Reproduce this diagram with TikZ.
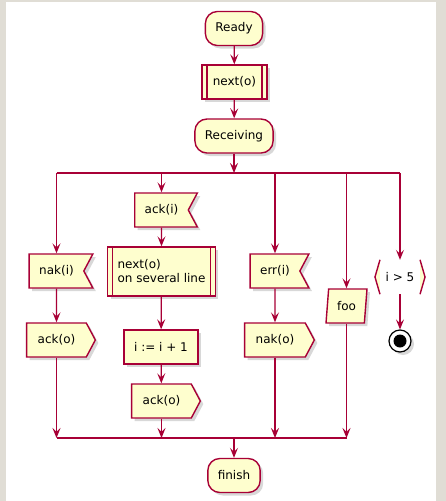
\documentclass[tikz,border=0pt]{standalone}
\usepackage{fontspec}
\setmainfont{DejaVu Sans}
\usetikzlibrary{arrows.meta, shapes.symbols, shapes.geometric, shadows}
\definecolor{umlred}{HTML}{A80036}
\definecolor{umlfill}{HTML}{FEFECE}
\definecolor{umlframe}{HTML}{E0DDD5}
\tikzset{
  box/.style={draw=umlred, fill=umlfill, line width=1.4pt, minimum height=34pt,
    inner xsep=10pt, inner ysep=0pt, font=\fontsize{12}{14}\selectfont,
    drop shadow={shadow xshift=3pt, shadow yshift=-3pt, opacity=.3}},
  state/.style={box, rounded corners=12pt},
  action/.style={box, rectangle},
  subproc/.style={box, path picture={
    \draw[umlred, line width=1.4pt]
      ([xshift=5pt]path picture bounding box.north west) -- ([xshift=5pt]path picture bounding box.south west)
      ([xshift=-5pt]path picture bounding box.north east) -- ([xshift=-5pt]path picture bounding box.south east);}},
  receive/.style={box, signal, signal to=nowhere, signal from=east, signal pointer angle=124},
  send/.style={box, signal, signal to=east, signal pointer angle=124, inner xsep=11pt},
  io/.style={box, trapezium, trapezium stretches=true, trapezium left angle=78,
    trapezium right angle=102, inner xsep=4pt, minimum width=41pt},
  flow/.style={->, draw=umlred, line width=1.2pt},
  bar/.style={draw=umlred, line width=1.2pt},
}

\begin{document}
\begin{tikzpicture}[x=1pt, y=-1pt, >={Stealth[length=10pt, width=8pt, inset=4pt]}]
  \fill[umlframe] (0,0) rectangle (446,501);
  \fill[white] (6,2) rectangle (436,501);

  \node[state] (ready) at (234,28.5) {Ready};
  \node[subproc, inner xsep=11pt] (next) at (234.5,82) {next(o)};
  \node[state] (recv) at (234,136) {Receiving};
  \coordinate (fork) at (234,173);

  % branches
  \node[receive] (nakI) at (56.5,271) {nak(i)};
  \node[send] (ackOa) at (56.5,340) {ack(o)};

  \node[receive] (ackI) at (161.5,210) {ack(i)};
  \node[subproc, align=left, minimum height=49pt] (nextML) at (161.5,271.5) {next(o)\\on several line};
  \node[action] (incr) at (161,347) {i := i + 1};
  \node[send] (ackOb) at (161.5,401) {ack(o)};

  \node[receive] (errI) at (275,271) {err(i)};
  \node[send] (nakO) at (275,340) {nak(o)};

  \node[io] (foo) at (346.5,306) {foo};

  \node[fill=white, minimum height=34pt, inner xsep=5.5pt, font=\fontsize{12}{14}\selectfont] (cond) at (400,277) {i > 5};
  \filldraw[fill=umlfill, draw=umlred, line width=1.4pt]
    (cond.north west) -- ([xshift=-5pt]cond.west) -- (cond.south west);
  \filldraw[fill=umlfill, draw=umlred, line width=1.4pt]
    (cond.north east) -- ([xshift=5pt]cond.east) -- (cond.south east);
  \node[circle, draw=black, fill=white, line width=1.2pt, minimum size=22pt, inner sep=0pt,
    drop shadow={shadow xshift=3pt, shadow yshift=-3pt, opacity=.3}] (stop) at (400,341) {};
  \fill[black] (stop) circle (6.5pt);

  \coordinate (join) at (234,438);
  \node[state] (finish) at (234,475.5) {finish};

  \draw[flow] (ready) -- (next);
  \draw[flow] (next) -- (recv);
  \draw[flow] (recv) -- (fork);
  \draw[bar] (fork -| nakI) -- (fork -| cond);
  \foreach \n in {nakI, ackI, errI, foo, cond}
    \draw[flow] (fork -| \n) -- (\n);

  \draw[flow] (nakI) -- (ackOa);
  \draw[flow] (ackI) -- (nextML);
  \draw[flow] (nextML) -- (incr);
  \draw[flow] (incr) -- (ackOb);
  \draw[flow] (errI) -- (nakO);
  \draw[flow] (cond) -- (stop);

  \foreach \n in {ackOa, ackOb, nakO, foo}
    \draw[flow] (\n) -- (join -| \n);
  \draw[bar] (join -| ackOa) -- (join -| foo);
  \draw[flow] (join) -- (finish);
\end{tikzpicture}
\end{document}
